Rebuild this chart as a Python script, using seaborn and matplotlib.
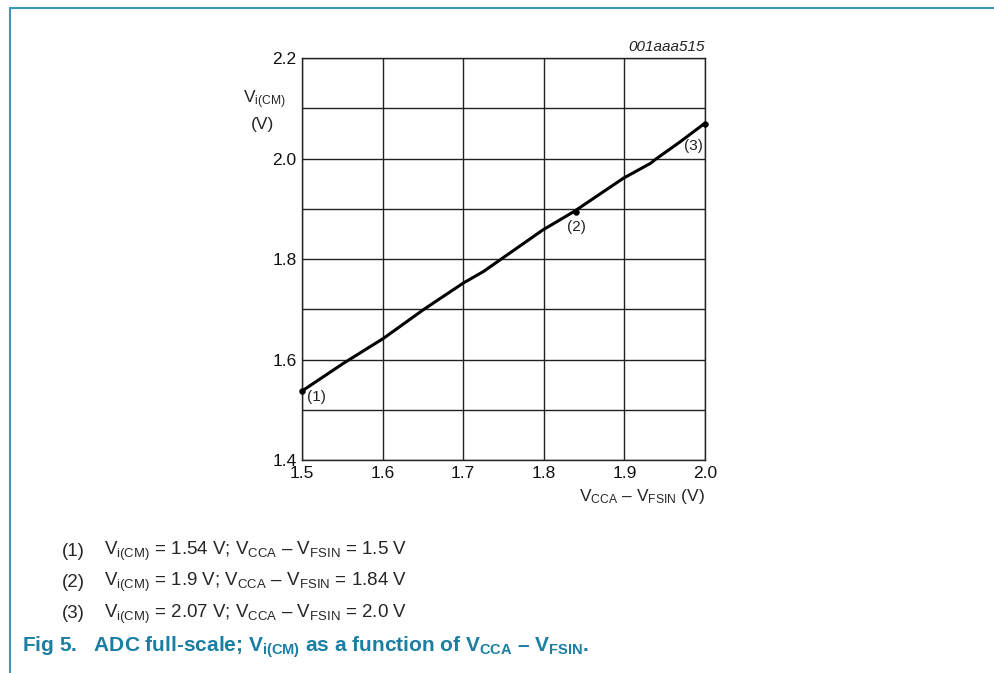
import matplotlib
matplotlib.use('Agg')
import matplotlib.pyplot as plt
import seaborn as sns
import pandas as pd
from matplotlib.lines import Line2D
from matplotlib.ticker import MultipleLocator, FormatStrFormatter

# curve
v_fsin = [1.5016, 1.551, 1.601, 1.6505, 1.700, 1.725, 1.799, 1.837, 1.899, 1.932, 1.940, 1.969, 1.998]
v_icm = [1.539, 1.592, 1.642, 1.699, 1.752, 1.775, 1.858, 1.894, 1.961, 1.990, 2.000, 2.033, 2.068]

# marked points
mark_x = [1.5, 1.84, 2.0]
mark_y = [1.537, 1.894, 2.068]
mark_labels = ['(1)', '(2)', '(3)']

notes = [
    ('(1)', r'V$_{\mathrm{i(CM)}}$ = 1.54 V; V$_{\mathrm{CCA}}$ – V$_{\mathrm{FSIN}}$ = 1.5 V'),
    ('(2)', r'V$_{\mathrm{i(CM)}}$ = 1.9 V; V$_{\mathrm{CCA}}$ – V$_{\mathrm{FSIN}}$ = 1.84 V'),
    ('(3)', r'V$_{\mathrm{i(CM)}}$ = 2.07 V; V$_{\mathrm{CCA}}$ – V$_{\mathrm{FSIN}}$ = 2.0 V'),
]

sns.set_theme(style='white')
plt.rcParams['font.family'] = ['Liberation Sans', 'DejaVu Sans']
plt.rcParams['mathtext.fontset'] = 'custom'
plt.rcParams['mathtext.rm'] = 'Liberation Sans'
plt.rcParams['mathtext.it'] = 'Liberation Sans:italic'
plt.rcParams['mathtext.bf'] = 'Liberation Sans:bold'

teal = '#1a7fa3'

fig = plt.figure(figsize=(9.95, 6.73), dpi=100)
ax = fig.add_axes([302 / 995, 1 - 460 / 673, 403 / 995, 402 / 673])

curve = pd.DataFrame({'x': v_fsin, 'y': v_icm})
sns.lineplot(data=curve, x='x', y='y', ax=ax, color='black', linewidth=2.2, zorder=3)
pts = pd.DataFrame({'x': mark_x, 'y': mark_y})
sns.scatterplot(data=pts, x='x', y='y', ax=ax, color='black', s=18, zorder=4,
                edgecolor='black', clip_on=False)

offsets = [(0.006, -0.012, 'left'), (0.001, -0.030, 'center'), (-0.003, -0.044, 'right')]
for x, y, lab, (dx, dy, ha) in zip(mark_x, mark_y, mark_labels, offsets):
    ax.text(x + dx, y + dy, lab, ha=ha, va='center', fontsize=11, color='#222222')

ax.set_xlim(1.5, 2.0)
ax.set_ylim(1.4, 2.2)
ax.xaxis.set_major_locator(MultipleLocator(0.1))
ax.yaxis.set_major_locator(MultipleLocator(0.2))
ax.yaxis.set_minor_locator(MultipleLocator(0.1))
ax.xaxis.set_major_formatter(FormatStrFormatter('%.1f'))
ax.yaxis.set_major_formatter(FormatStrFormatter('%.1f'))
ax.grid(True, which='both', color='#222222', linewidth=1.0)
ax.set_axisbelow(True)
for s in ax.spines.values():
    s.set_color('#222222')
    s.set_linewidth(1.0)
ax.tick_params(axis='both', which='both', length=0, labelsize=12.5, colors='#111111', pad=4)
ax.set_xlabel('')
ax.set_ylabel('')

fig.text(264 / 995, 1 - 100 / 673, r'V$_{\mathrm{i(CM)}}$', ha='center', va='center', fontsize=12.5)
fig.text(262 / 995, 1 - 125 / 673, '(V)', ha='center', va='center', fontsize=12.5)
fig.text(705 / 995, 1 - 497 / 673, r'V$_{\mathrm{CCA}}$ – V$_{\mathrm{FSIN}}$ (V)',
         ha='right', va='center', fontsize=12.5)
fig.text(705 / 995, 1 - 47 / 673, '001aaa515', ha='right', va='center',
         fontsize=11, style='italic', color='#222222')

for i, (num, txt) in enumerate(notes):
    yy = 1 - (551 + 31.5 * i) / 673
    fig.text(62 / 995, yy, num, ha='left', va='center', fontsize=13.5)
    fig.text(104 / 995, yy, txt, ha='left', va='center', fontsize=13.5)

fig.text(22 / 995, 1 - 647 / 673,
         r'Fig 5.   ADC full-scale; V$_{\mathbf{i(CM)}}$ as a function of V$_{\mathbf{CCA}}$ – V$_{\mathbf{FSIN}}$.',
         ha='left', va='center', fontsize=15, fontweight='bold', color=teal)

# frame lines top and left
fig.add_artist(Line2D([9.5 / 995, 9.5 / 995], [0, 1 - 8 / 673], color='#3a97bb', linewidth=1.5))
fig.add_artist(Line2D([9.5 / 995, 1], [1 - 8 / 673, 1 - 8 / 673], color='#3a97bb', linewidth=1.5))

fig.savefig('out.png', dpi=100)
